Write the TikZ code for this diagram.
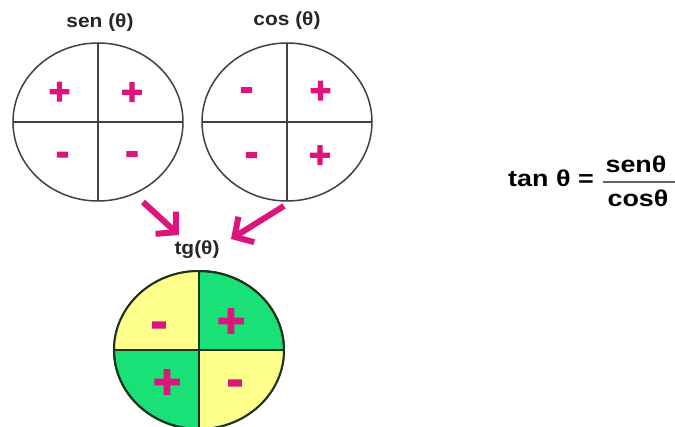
\documentclass[tikz,border=0pt]{standalone}
\usepackage{fontspec}
\setmainfont{Liberation Sans}
\newfontfamily\signfont[BoldFeatures={FakeBold=3}]{Liberation Sans}
\newfontfamily\frmfont[FakeStretch=1.17]{Liberation Sans}
\newfontfamily\ttlfont[FakeStretch=1.1]{Liberation Sans}
\usetikzlibrary{shapes.geometric,arrows.meta}
\definecolor{mag}{RGB}{222,20,125}
\definecolor{tgyel}{RGB}{255,255,140}
\definecolor{tggrn}{RGB}{25,225,120}
\definecolor{rim}{RGB}{65,65,65}
\definecolor{tgrim}{RGB}{30,50,30}
\begin{document}
\begin{tikzpicture}[x=1pt,y=-1pt,
  circ/.style={ellipse,draw=rim,line width=1.5pt,minimum width=170pt,minimum height=158pt,inner sep=0pt,outer sep=0pt},
  axis/.style={draw=rim,line width=1.5pt},
  ttl/.style={font=\ttlfont\bfseries\fontsize{19}{21}\selectfont,text=black!85,inner sep=0pt},
  sgnp/.style={text=mag,font=\signfont\bfseries\fontsize{37}{37}\selectfont,inner sep=0pt,anchor=base},
  sgnm/.style={text=mag,font=\signfont\bfseries\fontsize{40}{40}\selectfont,inner sep=0pt,anchor=base},
  bigp/.style={text=mag,font=\signfont\bfseries\fontsize{48}{48}\selectfont,inner sep=0pt,anchor=base},
  bigm/.style={text=mag,font=\signfont\bfseries\fontsize{48}{48}\selectfont,inner sep=0pt,anchor=base},
  arr/.style={draw=mag,line width=6pt,-{Straight Barb[length=14pt,width=30pt]}},
  frm/.style={font=\frmfont\bfseries\fontsize{23}{26}\selectfont,inner sep=0pt}]
\useasboundingbox (0,0) rectangle (675,427);

% sen circle
\node[ttl] (sent) at (100,23) {sen (θ)};
\node[circ] (sen) at (98,122) {};
\draw[axis] (sen.north) -- (sen.south) (sen.west) -- (sen.east);
\node[sgnp] (s1) at (59.5,104) {+};
\node[sgnp] (s2) at (132,104.5) {+};
\node[sgnm] (s3) at (62.5,165) {-};
\node[sgnm] (s4) at (132,164.5) {-};

% cos circle
\node[ttl] (cost) at (287,21) {cos (θ)};
\node[circ] (cos) at (287,122) {};
\draw[axis] (cos.north) -- (cos.south) (cos.west) -- (cos.east);
\node[sgnm] (c1) at (246.5,100.5) {-};
\node[sgnp] (c2) at (320.5,103) {+};
\node[sgnm] (c3) at (251.5,165.5) {-};
\node[sgnp] (c4) at (320,167.5) {+};

% arrows
\coordinate (a1s) at (143,202);
\coordinate (a1e) at (179,235);
\coordinate (a2s) at (284,206);
\coordinate (a2e) at (231,239);
\draw[arr] (a1s) -- (a1e);
\draw[arr] (a2s) -- (a2e);

% tg circle
\node[ttl] (tgt) at (197,250) {tg(θ)};
\node[circ,fill=tggrn,draw=tgrim,line width=2pt] (tg) at (199,350) {};
\fill[tgyel] (tg.center) -- (tg.north) arc[start angle=90,end angle=180,x radius=85pt,y radius=79pt] -- cycle;
\fill[tgyel] (tg.center) -- (tg.south) arc[start angle=270,end angle=360,x radius=85pt,y radius=79pt] -- cycle;
\draw[draw=tgrim,line width=2pt] (tg.north) -- (tg.south) (tg.west) -- (tg.east);
\draw[tgrim,line width=2pt] (tg.center) ellipse[x radius=85pt,y radius=79pt];
\node[bigm] (t1) at (159,337.5) {-};
\node[bigp] (t2) at (231,337) {+};
\node[bigp] (t3) at (167,398) {+};
\node[bigm] (t4) at (235,395.5) {-};

% formula
\node[frm,anchor=base west] (tan) at (508,187) {tan θ =};
\node[frm,anchor=base] (num) at (636,173) {senθ};
\node[frm,anchor=base] (den) at (638,207) {cosθ};
\coordinate (b1) at (603,182);
\coordinate (b2) at (675,182);
\draw[black!60,line width=1.5pt] (b1) -- (b2);
\end{tikzpicture}
\end{document}
